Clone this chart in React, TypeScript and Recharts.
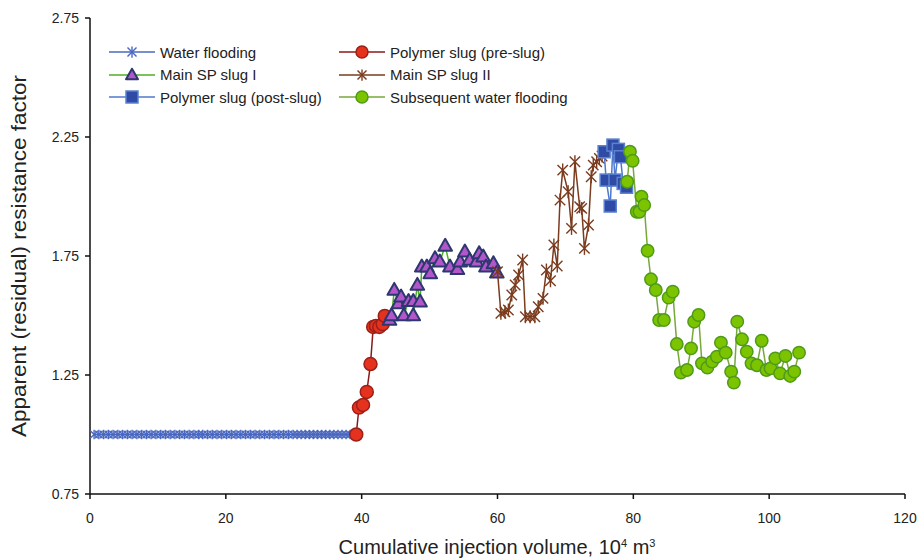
import React from 'react'
import { ScatterChart, Scatter, XAxis, YAxis, Legend, Label } from 'recharts'

// x: cumulative injection volume (10^4 m3), y: apparent (residual) resistance factor
const waterFlooding: [number, number][] = [
  [0.6, 1.0], [1.3, 1.0], [2.0, 1.0], [2.7, 1.0], [3.4, 1.0], [4.1, 1.0], [4.8, 1.0], [5.5, 1.0],
  [6.2, 1.0], [6.9, 1.0], [7.6, 1.0], [8.3, 1.0], [9.0, 1.0], [9.7, 1.0], [10.4, 1.0], [11.1, 1.0],
  [11.8, 1.0], [12.5, 1.0], [13.2, 1.0], [13.9, 1.0], [14.6, 1.0], [15.3, 1.0], [16.0, 1.0], [16.6, 1.0],
  [17.3, 1.0], [18.0, 1.0], [18.7, 1.0], [19.4, 1.0], [20.1, 1.0], [20.8, 1.0], [21.5, 1.0], [22.2, 1.0],
  [22.9, 1.0], [23.6, 1.0], [24.3, 1.0], [25.0, 1.0], [25.7, 1.0], [26.4, 1.0], [27.1, 1.0], [27.8, 1.0],
  [28.5, 1.0], [29.2, 1.0], [29.9, 1.0], [30.5, 1.0], [31.1, 1.0], [31.7, 1.0], [32.3, 1.0], [32.9, 1.0],
  [33.5, 1.0], [34.1, 1.0], [34.7, 1.0], [35.3, 1.0], [35.9, 1.0], [36.5, 1.0], [37.1, 1.0], [37.7, 1.0],
  [38.3, 1.0],
]
const polymerPre: [number, number][] = [
  [39.2, 1.0], [39.6, 1.113], [40.2, 1.124], [40.75, 1.179], [41.3, 1.296], [41.7, 1.452],
  [42.1, 1.456], [42.6, 1.452], [43.1, 1.464], [43.4, 1.498],
]
const mainSP1: [number, number][] = [
  [44.1, 1.481], [44.4, 1.5], [44.8, 1.607], [45.4, 1.55], [45.8, 1.579], [46.2, 1.5],
  [46.9, 1.56], [47.6, 1.56], [47.6, 1.5], [48.2, 1.628], [48.6, 1.558], [48.85, 1.705],
  [49.6, 1.705], [50.1, 1.677], [50.8, 1.74], [51.5, 1.726], [52.3, 1.792], [53.0, 1.705],
  [54.1, 1.694], [54.5, 1.726], [55.2, 1.768], [55.9, 1.733], [56.9, 1.726], [57.3, 1.761],
  [57.9, 1.747], [58.3, 1.705], [59.4, 1.719], [59.9, 1.68],
]
const mainSP2: [number, number][] = [
  [60.0, 1.684], [60.5, 1.509], [61.1, 1.515], [61.6, 1.523], [62.1, 1.586], [62.6, 1.628],
  [63.1, 1.67], [63.7, 1.733], [64.1, 1.495], [64.8, 1.495], [65.5, 1.495], [66.0, 1.537],
  [66.7, 1.572], [67.2, 1.691], [67.8, 1.646], [68.3, 1.796], [68.8, 1.708], [69.2, 1.985],
  [69.6, 2.111], [70.4, 2.02], [70.9, 1.866], [71.4, 2.146], [72.1, 1.957], [72.4, 1.95],
  [72.8, 1.782], [73.4, 1.88], [73.8, 2.083], [74.1, 2.132], [74.6, 2.146], [75.0, 2.16],
  [75.4, 2.17],
]
const polymerPost: [number, number][] = [
  [75.7, 2.188], [76.0, 2.069], [76.6, 1.96], [77.0, 2.216], [77.3, 2.069], [77.8, 2.198],
  [78.1, 2.167], [78.5, 2.055], [79.0, 2.039],
]
const subsequentWater: [number, number][] = [
  [79.1, 2.062], [79.5, 2.188], [79.9, 2.15], [80.5, 1.936], [80.9, 1.936], [81.2, 1.999],
  [81.6, 1.964], [82.1, 1.772], [82.6, 1.652], [83.3, 1.607], [83.8, 1.481], [84.5, 1.481],
  [85.2, 1.575], [85.8, 1.6], [86.4, 1.38], [87.0, 1.26], [87.9, 1.271], [88.5, 1.362],
  [88.95, 1.474], [89.6, 1.502], [90.1, 1.299], [90.9, 1.281], [91.6, 1.306], [92.3, 1.327],
  [92.9, 1.386], [93.6, 1.344], [94.4, 1.264], [94.8, 1.218], [95.3, 1.474], [96.0, 1.4],
  [96.7, 1.348], [97.4, 1.299], [98.2, 1.291], [98.9, 1.394], [99.6, 1.271], [100.2, 1.278],
  [100.9, 1.32], [101.6, 1.257], [102.4, 1.33], [103.1, 1.246], [103.7, 1.264], [104.4, 1.344],
]

const xTicks = [0, 20, 40, 60, 80, 100, 120]
const yTicks = [0.75, 1.25, 1.75, 2.25, 2.75]

const toPts = (arr: [number, number][]) => arr.map(([x, y]) => ({ x, y }))

const FONT = '"Liberation Sans", Arial, sans-serif'
const NARROW = '"Liberation Sans Narrow", "Liberation Sans", Arial, sans-serif'

type MarkerKind = 'star' | 'circle' | 'triangle' | 'square'

function Marker({ kind, cx, cy, color, fill, size }: { kind: MarkerKind; cx: number; cy: number; color: string; fill?: string; size: number }) {
  const r = size
  if (kind === 'star') {
    return (
      <g stroke={color} strokeWidth={1.4}>
        <line x1={cx - r} y1={cy - r} x2={cx + r} y2={cy + r} />
        <line x1={cx - r} y1={cy + r} x2={cx + r} y2={cy - r} />
        <line x1={cx} y1={cy - r * 1.25} x2={cx} y2={cy + r * 1.25} />
      </g>
    )
  }
  if (kind === 'circle') return <circle cx={cx} cy={cy} r={r} fill={fill} stroke={color} strokeWidth={1.5} />
  if (kind === 'triangle') {
    const h = r * 1.75
    return (
      <polygon
        points={`${cx},${cy - h * 0.6} ${cx - r},${cy + h * 0.4} ${cx + r},${cy + h * 0.4}`}
        fill={fill}
        stroke={color}
        strokeWidth={2}
        strokeLinejoin="round"
      />
    )
  }
  return <rect x={cx - r} y={cy - r} width={r * 2} height={r * 2} fill={fill} stroke={color} strokeWidth={1.5} />
}

const series = [
  { name: 'Water flooding', data: waterFlooding, line: '#4a68c0', kind: 'star' as MarkerKind, mk: '#4a68c0', fill: undefined, size: 3.8 },
  { name: 'Polymer slug (pre-slug)', data: polymerPre, line: '#8b1a1a', kind: 'circle' as MarkerKind, mk: '#9c1f18', fill: '#e4321e', size: 6.5 },
  { name: 'Main SP slug I', data: mainSP1, line: '#4caf26', kind: 'triangle' as MarkerKind, mk: '#2d3770', fill: '#b157c9', size: 6.8 },
  { name: 'Main SP slug II', data: mainSP2, line: '#7a3b1e', kind: 'star' as MarkerKind, mk: '#7a3b1e', fill: undefined, size: 5.2 },
  { name: 'Polymer slug (post-slug)', data: polymerPost, line: '#4f79cc', kind: 'square' as MarkerKind, mk: '#5b82d0', fill: '#2f4ba6', size: 6 },
  { name: 'Subsequent water flooding', data: subsequentWater, line: '#77a83a', kind: 'circle' as MarkerKind, mk: '#4f9a1a', fill: '#7dc400', size: 6.2 },
]

function renderLegend() {
  return (
    <div style={{ position: 'absolute', left: 108, top: 43, width: 500, fontFamily: FONT, fontSize: 15, color: '#222' }}>
      <div style={{ display: 'grid', gridTemplateColumns: '230px 270px', rowGap: 4 }}>
        {series.map((s) => (
          <div key={s.name} style={{ display: 'flex', alignItems: 'center', height: 18.5 }}>
            <svg width={48} height={18} style={{ marginRight: 4, flex: 'none' }}>
              <line x1={1} y1={9} x2={47} y2={9} stroke={s.line} strokeWidth={1.5} />
              <Marker kind={s.kind} cx={24} cy={9} color={s.mk} fill={s.fill} size={s.kind === 'star' ? 4.5 : 6} />
            </svg>
            <span style={{ whiteSpace: 'nowrap' }}>{s.name}</span>
          </div>
        ))}
      </div>
    </div>
  )
}

export default function App() {
  return (
    <div style={{ position: 'absolute', left: 0, top: 0, background: '#fff' }}>
      <ScatterChart width={917} height={558} margin={{ top: 18, right: 12, bottom: 0, left: 0 }}>
        <XAxis
          type="number"
          dataKey="x"
          domain={[0, 120]}
          ticks={xTicks}
          height={64}
          stroke="#111"
          strokeWidth={1.5}
          tickSize={5}
          tickMargin={14}
          tick={{ fill: '#222', fontSize: 14, fontFamily: NARROW }}
        >
          <Label
            content={() => (
              <text x={497} y={554} textAnchor="middle" fontFamily={NARROW} fontSize={20} fill="#222">
                Cumulative injection volume, 10<tspan dy={-7} fontSize={11}>4</tspan>
                <tspan dy={7}> m</tspan>
                <tspan dy={-7} fontSize={11}>3</tspan>
              </text>
            )}
          />
        </XAxis>
        <YAxis
          type="number"
          dataKey="y"
          domain={[0.75, 2.75]}
          ticks={yTicks}
          width={90}
          stroke="#111"
          strokeWidth={1.5}
          tickSize={5}
          tickMargin={6}
          tickFormatter={(v: number) => v.toFixed(2)}
          tick={{ fill: '#222', fontSize: 14, fontFamily: FONT }}
        >
          <Label
            content={() => (
              <text
                x={21}
                y={256}
                textAnchor="middle"
                dominantBaseline="middle"
                transform="rotate(-90 21 256)"
                fontFamily={FONT}
                fontSize={20}
                textLength={362}
                lengthAdjust="spacingAndGlyphs"
                fill="#222"
              >
                Apparent (residual) resistance factor
              </text>
            )}
          />
        </YAxis>
        <Legend content={renderLegend} wrapperStyle={{ position: 'absolute', left: 0, top: 0, width: 0, height: 0 }} />
        {series.map((s) => (
          <Scatter
            key={s.name}
            name={s.name}
            data={toPts(s.data)}
            line={{ stroke: s.line, strokeWidth: 1.5 }}
            isAnimationActive={false}
            shape={(p: any) => <Marker kind={s.kind} cx={p.cx} cy={p.cy} color={s.mk} fill={s.fill} size={s.size} />}
          />
        ))}
      </ScatterChart>
    </div>
  )
}
